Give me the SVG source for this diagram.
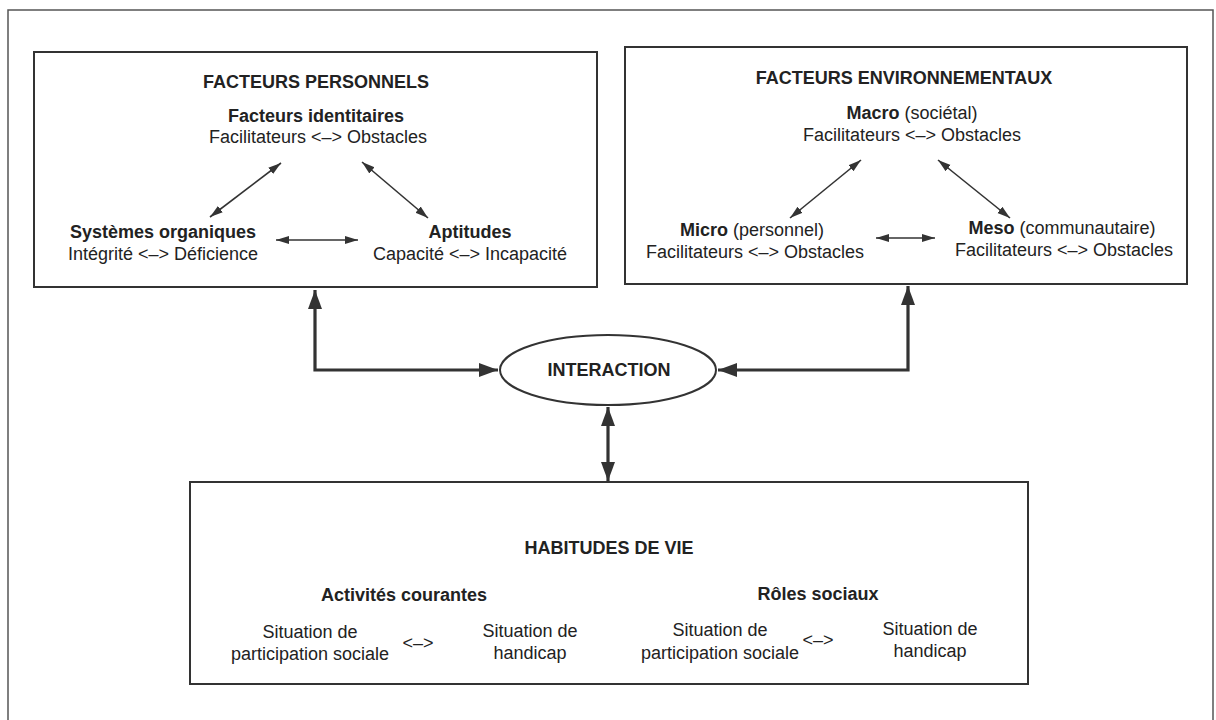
<svg xmlns="http://www.w3.org/2000/svg" width="1216" height="720" viewBox="0 0 1216 720">
<style>
text{font-family:"Liberation Sans",Arial,sans-serif;font-size:18px;fill:#222;text-anchor:middle}
.b{font-weight:bold}
.box{fill:#fff;stroke:#333;stroke-width:2}
.thin{fill:none;stroke:#333;stroke-width:1.6;marker-start:url(#ah);marker-end:url(#ah)}
.thick{fill:none;stroke:#333;stroke-width:3.2}
</style>
<defs>
<marker id="ah" markerUnits="userSpaceOnUse" markerWidth="14" markerHeight="10" refX="13" refY="4" orient="auto-start-reverse" viewBox="0 0 14 8"><path d="M0,0 L13,4 L0,8 z" fill="#333"/></marker>
<marker id="AH" markerUnits="userSpaceOnUse" markerWidth="20" markerHeight="16" refX="19" refY="7" orient="auto-start-reverse" viewBox="0 0 20 14"><path d="M0,0 L19,7 L0,14 z" fill="#333"/></marker>
</defs>
<rect width="1216" height="720" fill="#fff"/>
<rect x="8" y="10" width="1205" height="730" fill="none" stroke="#555" stroke-width="1.5"/>

<g id="facteurs-personnels">
<rect class="box" x="34" y="52" width="563" height="235"/>
<text class="b" x="316" y="88">FACTEURS PERSONNELS</text>
<text class="b" x="316" y="122">Facteurs identitaires</text>
<text x="318" y="143">Facilitateurs &lt;–&gt; Obstacles</text>
<text class="b" x="163" y="238">Systèmes organiques</text>
<text x="163" y="260">Intégrité &lt;–&gt; Déficience</text>
<text class="b" x="470" y="238">Aptitudes</text>
<text x="470" y="260">Capacité &lt;–&gt; Incapacité</text>
<path class="thin" d="M281,163 L210,217"/>
<path class="thin" d="M362,162 L428,218"/>
<path class="thin" d="M276,240 L358,240"/>
</g>

<g id="facteurs-environnementaux">
<rect class="box" x="625" y="47" width="562" height="237"/>
<text class="b" x="904" y="84">FACTEURS ENVIRONNEMENTAUX</text>
<text x="912" y="119"><tspan class="b">Macro</tspan> (sociétal)</text>
<text x="912" y="141">Facilitateurs &lt;–&gt; Obstacles</text>
<text x="752" y="236"><tspan class="b">Micro</tspan> (personnel)</text>
<text x="755" y="258">Facilitateurs &lt;–&gt; Obstacles</text>
<text x="1062" y="234"><tspan class="b">Meso</tspan> (communautaire)</text>
<text x="1064" y="256">Facilitateurs &lt;–&gt; Obstacles</text>
<path class="thin" d="M861,160 L790,218"/>
<path class="thin" d="M938,160 L1010,218"/>
<path class="thin" d="M876,238 L935,238"/>
</g>

<g id="interaction">
<ellipse cx="608" cy="370" rx="108" ry="35" fill="#fff" stroke="#333" stroke-width="2"/>
<text class="b" x="609" y="376">INTERACTION</text>
</g>

<g id="habitudes-de-vie">
<rect class="box" x="190" y="482" width="838" height="202"/>
<text class="b" x="609" y="554">HABITUDES DE VIE</text>
<text class="b" x="404" y="601">Activités courantes</text>
<text class="b" x="818" y="600">Rôles sociaux</text>
<text x="310" y="638">Situation de</text>
<text x="310" y="660">participation sociale</text>
<text x="418" y="649">&lt;–&gt;</text>
<text x="530" y="637">Situation de</text>
<text x="530" y="659">handicap</text>
<text x="720" y="636">Situation de</text>
<text x="720" y="659">participation sociale</text>
<text x="818" y="646">&lt;–&gt;</text>
<text x="930" y="635">Situation de</text>
<text x="930" y="657">handicap</text>
</g>

<g id="connectors">
<path class="thick" d="M315,290 L315,370 L498,370" marker-start="url(#AH)" marker-end="url(#AH)"/>
<path class="thick" d="M718,370 L908,370 L908,286" marker-start="url(#AH)" marker-end="url(#AH)"/>
<path class="thick" d="M608,407 L608,481" marker-start="url(#AH)" marker-end="url(#AH)"/>
</g>
</svg>
